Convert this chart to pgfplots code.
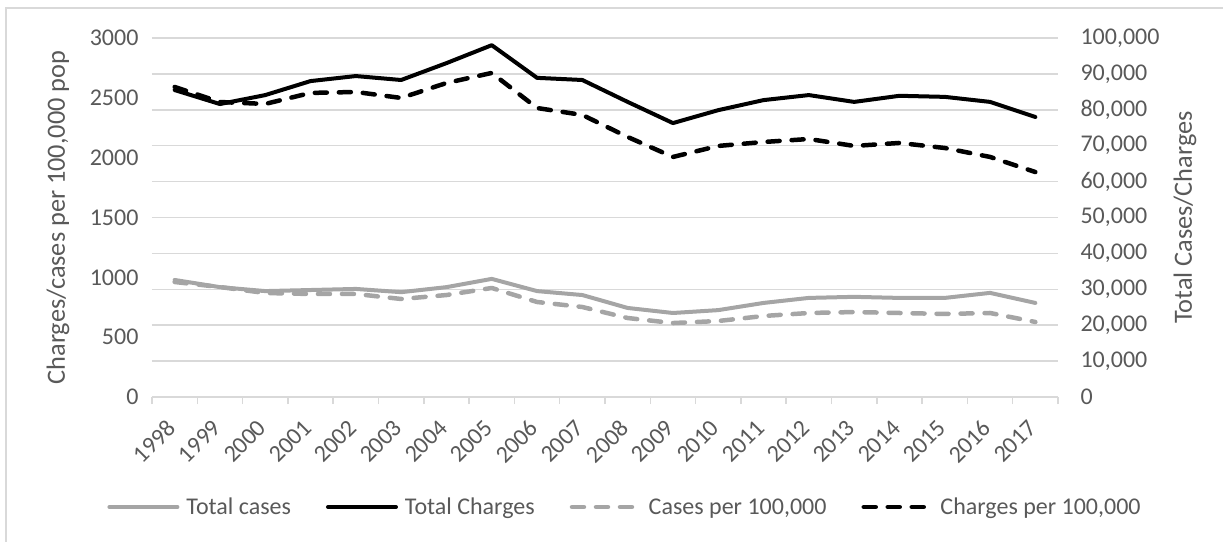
\documentclass[border=0pt]{standalone}
\usepackage{pgfplots}
\pgfplotsset{compat=1.18}
\usepackage{fontspec}
\setmainfont{Carlito}
\definecolor{txt}{HTML}{595959}
\definecolor{gridc}{HTML}{D9D9D9}
\definecolor{lgray}{HTML}{A5A5A5}

\pgfplotsset{
  common/.style={
    scale only axis, width=906bp, height=359bp,
    xmin=-0.5, xmax=19.5, ymin=0,
    /pgf/number format/assume math mode=true,
    /pgf/number format/fixed,
  },
  solidleg/.style={legend image code/.code={\path[draw=none] (0bp,0bp) -- (79bp,0bp); \draw[##1] (2bp,0bp) -- (70bp,0bp);}},
  dashleg/.style={legend image code/.code={\path[draw=none] (0bp,0bp) -- (79bp,0bp); \draw[##1] (2.25bp,0bp) -- (62.25bp,0bp);}},
}

\begin{document}
\begin{tikzpicture}[font=\fontsize{24bp}{29bp}\selectfont]
\useasboundingbox (-152bp,-145bp) rectangle (1071bp,397bp);
\draw[gridc, line width=1.5bp] (-146bp,-145bp) -- (-146bp,389bp) -- (1071bp,389bp);

% left axis: per 100,000
\begin{axis}[common,
  ymax=3000, ytick={0,500,...,3000},
  /pgf/number format/1000 sep={},
  axis x line*=bottom, axis y line*=left,
  axis line style={-},
  y axis line style={draw=none},
  x axis line style={gridc, line width=1.5bp},
  xtick={0,...,19},
  xticklabels={1998,1999,2000,2001,2002,2003,2004,2005,2006,2007,2008,2009,2010,2011,2012,2013,2014,2015,2016,2017},
  tick align=outside,
  major tick length=0pt,
  minor tick length=7bp,
  minor xtick={-0.5,0.5,...,19.5},
  minor x tick style={gridc, line width=1.5bp},
  major x tick style={draw=none},
  ytick style={draw=none},
  extra y ticks={300,600,900,1200,1500,1800,2100,2400,2700,3000},
  extra y tick labels={},
  extra y tick style={grid=major},
  major grid style={gridc, line width=1.5bp},
  yticklabel style={text=txt, xshift=-10bp},
  xticklabel style={text=txt, yshift=-27bp, xshift=-3bp, rotate=45, anchor=east, inner sep=0pt},
  every axis y label/.style={at={(axis description cs:-0.1037,0.5)}, rotate=90, anchor=center, text=txt, font=\fontsize{26.3bp}{31bp}\selectfont},
  ylabel={Charges/cases per 100,000 pop},
]
\addplot[lgray, line width=4.5bp, line cap=round, line join=round, dash pattern=on 12bp off 12bp] coordinates {
(0,961) (1,919) (2,869) (3,861) (4,861) (5,819) (6,852) (7,911) (8,794) (9,752)
(10,660) (11,618) (12,635) (13,677) (14,702) (15,710) (16,702) (17,694) (18,702) (19,627)};
\addplot[black, line width=4.5bp, line cap=round, line join=round, dash pattern=on 12bp off 12bp] coordinates {
(0,2591) (1,2465) (2,2449) (3,2541) (4,2549) (5,2499) (6,2624) (7,2708) (8,2415) (9,2357)
(10,2173) (11,2006) (12,2098) (13,2131) (14,2156) (15,2098) (16,2123) (17,2081) (18,2006) (19,1880)};
\end{axis}

% right axis: totals
\begin{axis}[common,
  ymax=100000, ytick={0,10000,20000,30000,40000,50000,60000,70000,80000,90000,100000},
  scaled y ticks=false,
  /pgf/number format/1000 sep={,},
  axis y line*=right, axis x line=none,
  axis line style={draw=none},
  ytick style={draw=none},
  major tick length=0pt,
  yticklabel style={text=txt, xshift=19bp},
  every axis y label/.style={at={(axis description cs:1.1402,0.5)}, rotate=90, anchor=center, text=txt, font=\fontsize{26.3bp}{31bp}\selectfont},
  ylabel={Total Cases/Charges},
  legend columns=4,
  legend style={at={(0.521,-0.3064)}, anchor=center, draw=none, fill=none,
    nodes={text=txt, inner sep=0pt},
    /tikz/every even column/.append style={column sep=35bp}},
]
\addplot[lgray, line width=4bp, line cap=round, line join=round, solidleg] coordinates {
(0,32600) (1,30600) (2,29500) (3,29800) (4,30100) (5,29200) (6,30600) (7,32900) (8,29500) (9,28400)
(10,24800) (11,23400) (12,24200) (13,26200) (14,27600) (15,27900) (16,27600) (17,27600) (18,29000) (19,26200)};
\addlegendentry{Total cases}
\addplot[black, line width=4bp, line cap=round, line join=round, solidleg] coordinates {
(0,85500) (1,81600) (2,84100) (3,88000) (4,89400) (5,88300) (6,93000) (7,98000) (8,88900) (9,88300)
(10,82200) (11,76300) (12,79900) (13,82700) (14,84100) (15,82200) (16,83900) (17,83600) (18,82200) (19,78000)};
\addlegendentry{Total Charges}
\addlegendimage{lgray, line width=4.5bp, line cap=round, dash pattern=on 12bp off 12bp, dashleg}
\addlegendentry{Cases per 100,000}
\addlegendimage{black, line width=4.5bp, line cap=round, dash pattern=on 12bp off 12bp, dashleg}
\addlegendentry{Charges per 100,000}
\end{axis}
\end{tikzpicture}
\end{document}
